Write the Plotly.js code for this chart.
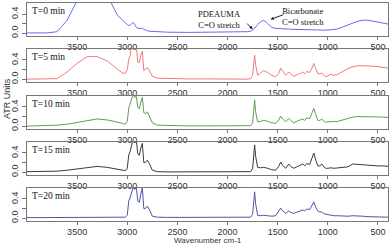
<!DOCTYPE html>
<html>
<head>
<meta charset="utf-8">
<script src="https://cdn.plot.ly/plotly-3.0.1.min.js"></script>
<style>html,body{margin:0;padding:0;background:#fff;}#chart{width:391px;height:247px;}</style>
</head>
<body>
<div id="chart"></div>
<script>
const wavenumber = [4000,3800,3700,3600,3500,3400,3300,3200,3100,3050,
 3020,3000,2985,2970,2955,2940,2925,2910,2895,2880,
 2865,2850,2835,2820,2800,2780,2750,2700,2600,2400,
 2200,2000,1800,1770,1750,1740,1730,1720,1700,1670,
 1640,1600,1560,1520,1490,1470,1450,1420,1390,1370,
 1340,1300,1270,1250,1230,1210,1180,1160,1140,1120,
 1100,1080,1060,1040,1020,1000,970,940,900,850,
 800,750,700,650,600,550,500,450,400];

const t0min = [0.005,0.005,0.03,0.27,0.68,1.0,1.1,0.8,0.38,0.28,
 0.21,0.18,0.16,0.17,0.2,0.22,0.18,0.12,0.1,0.1,
 0.11,0.1,0.08,0.06,0.05,0.04,0.035,0.03,0.02,0.015,
 0.015,0.02,0.03,0.04,0.06,0.08,0.1,0.13,0.18,0.24,
 0.27,0.2,0.12,0.1,0.1,0.095,0.09,0.09,0.085,0.08,
 0.08,0.08,0.08,0.08,0.08,0.08,0.075,0.075,0.075,0.07,
 0.07,0.065,0.065,0.06,0.06,0.06,0.065,0.075,0.09,0.13,
 0.18,0.22,0.25,0.27,0.27,0.25,0.23,0.21,0.19];

const t5min = [0.0,0.0,0.01,0.15,0.33,0.47,0.47,0.38,0.21,0.13,
 0.12,0.2,0.42,0.5,0.75,0.7,0.62,0.72,0.35,0.35,
 0.5,0.58,0.18,0.2,0.24,0.18,0.06,0.02,0.01,0.005,
 0.005,0.0,0.0,0.01,0.08,0.3,0.5,0.3,0.08,0.13,
 0.18,0.14,0.08,0.05,0.12,0.23,0.16,0.08,0.15,0.12,
 0.06,0.1,0.12,0.15,0.11,0.16,0.14,0.22,0.33,0.22,
 0.12,0.11,0.13,0.08,0.05,0.07,0.1,0.08,0.1,0.16,
 0.22,0.26,0.28,0.28,0.28,0.27,0.26,0.25,0.23];

const t10min = [0.0,0.01,0.02,0.04,0.08,0.12,0.15,0.13,0.09,0.06,
 0.04,0.1,0.38,0.48,0.62,0.68,0.6,0.62,0.4,0.36,
 0.5,0.6,0.28,0.26,0.3,0.22,0.07,0.02,0.01,0.005,
 0.005,0.005,0.005,0.01,0.07,0.3,0.55,0.3,0.09,0.1,
 0.12,0.1,0.07,0.06,0.13,0.21,0.15,0.09,0.16,0.12,
 0.07,0.11,0.13,0.15,0.12,0.17,0.16,0.26,0.37,0.24,
 0.12,0.12,0.15,0.1,0.08,0.09,0.09,0.09,0.1,0.13,
 0.16,0.19,0.2,0.2,0.2,0.2,0.2,0.19,0.18];

const t15min = [0.01,0.01,0.02,0.04,0.07,0.1,0.12,0.1,0.06,0.04,
 0.03,0.08,0.36,0.44,0.65,0.72,0.64,0.68,0.38,0.35,
 0.5,0.6,0.2,0.2,0.25,0.18,0.04,0.01,0.005,0.005,
 0.005,0.005,0.005,0.01,0.08,0.35,0.57,0.33,0.1,0.09,
 0.1,0.08,0.05,0.04,0.12,0.21,0.14,0.08,0.17,0.12,
 0.08,0.12,0.15,0.17,0.13,0.18,0.16,0.28,0.4,0.25,
 0.13,0.13,0.17,0.11,0.08,0.08,0.09,0.08,0.09,0.1,
 0.11,0.17,0.16,0.15,0.15,0.14,0.13,0.13,0.12];

const t20min = [0.01,0.01,0.01,0.015,0.015,0.015,0.015,0.015,0.015,0.015,
 0.02,0.06,0.36,0.44,0.6,0.66,0.6,0.64,0.36,0.33,
 0.5,0.63,0.2,0.2,0.25,0.18,0.04,0.02,0.015,0.015,
 0.015,0.015,0.015,0.02,0.08,0.35,0.55,0.3,0.06,0.05,
 0.06,0.05,0.04,0.05,0.14,0.21,0.15,0.1,0.15,0.12,
 0.1,0.13,0.15,0.17,0.15,0.19,0.18,0.26,0.34,0.22,
 0.15,0.13,0.13,0.09,0.08,0.07,0.06,0.05,0.05,0.04,
 0.04,0.05,0.05,0.04,0.03,0.03,0.02,0.02,0.02];

const panelLabels = ["T=0 min","T=5 min","T=10 min","T=15 min","T=20 min"];
const xTickVals = [3500,3000,2500,2000,1500,1000,500];
const yTickVals = [0,0.2,0.4];
const yTickText = ["0.0","","0.4"];
const series = [t0min, t5min, t10min, t15min, t20min];
const colors = ["#6a6af2","#f27a7a","#5e9e52","#3a3a3a","#5252aa"];

const domains = [[0.8486,1],[0.6376,0.789],[0.422,0.5734],[0.211,0.3624],[0,0.1514]];
const tickFont = {family:"Liberation Sans, Arial, sans-serif", size:9, color:"#333"};
const serif = {family:"Liberation Serif, Times New Roman, serif", size:9.5, color:"#111"};

const data = [];
const layout = {
  width:391, height:247,
  margin:{l:27, r:3, t:3, b:26, pad:0},
  paper_bgcolor:"#fff", plot_bgcolor:"#fff",
  showlegend:false,
  annotations:[]
};

for (let i = 0; i < 5; i++) {
  const s = i === 0 ? "" : String(i+1);
  data.push({
    x: wavenumber, y: series[i], type:"scatter", mode:"lines",
    line:{color:colors[i], width:1},
    xaxis:"x"+s, yaxis:"y"+s, hoverinfo:"skip"
  });
  layout["xaxis"+s] = {
    anchor:"y"+s, range:[4000,400], tickvals:xTickVals, ticks:"outside", ticklen:3,
    tickcolor:"#777", tickwidth:1, showline:true, linecolor:"#777", linewidth:1, mirror:true,
    showgrid:false, zeroline:false, tickfont:tickFont, ticklabelstandoff:-1
  };
  layout["yaxis"+s] = {
    domain:domains[i], anchor:"x"+s, range:[-0.06,0.63], tickvals:yTickVals, ticktext:yTickText,
    tickangle:-90, ticks:"outside", ticklen:4, tickcolor:"#777", tickwidth:1,
    showline:true, linecolor:"#777", linewidth:1, mirror:true,
    showgrid:false, zeroline:false, tickfont:tickFont
  };
  layout.annotations.push({
    xref:"x"+s+" domain", yref:"y"+s+" domain", x:0.008, y:0.98, xanchor:"left", yanchor:"top",
    text:panelLabels[i], showarrow:false, font:serif
  });
}

const small = {family:"Liberation Serif, Times New Roman, serif", size:8.5, color:"#111"};
layout.annotations.push(
  {xref:"x", yref:"y", x:2080, y:0.29, text:"PDEAUMA<br>C=O stretch", showarrow:false, font:small, align:"center"},
  {xref:"x", yref:"y", x:1250, y:0.35, text:"Bicarbonate<br>C=O stretch", showarrow:false, font:small, align:"center"},
  {xref:"x", yref:"y", x:1750, y:0.085, ax:-7, ay:-7, text:"", showarrow:true, arrowhead:2, arrowsize:0.7, arrowwidth:0.9, arrowcolor:"#111"},
  {xref:"x", yref:"y", x:1570, y:0.29, ax:14, ay:-5, text:"", showarrow:true, arrowhead:2, arrowsize:0.7, arrowwidth:0.9, arrowcolor:"#111"},
  {xref:"paper", yref:"paper", x:-0.055, y:0.56, xanchor:"center", yanchor:"middle", textangle:-90,
   text:"ATR Units", showarrow:false, font:{family:"Liberation Sans, Arial, sans-serif", size:9, color:"#333"}},
  {xref:"paper", yref:"paper", x:0.5, y:-0.121, xanchor:"center", yanchor:"bottom",
   text:"Wavenumber cm-1", showarrow:false, font:{family:"Liberation Sans, Arial, sans-serif", size:8, color:"#333"}}
);

Plotly.newPlot("chart", data, layout, {staticPlot:true, displayModeBar:false});
</script>
</body>
</html>
